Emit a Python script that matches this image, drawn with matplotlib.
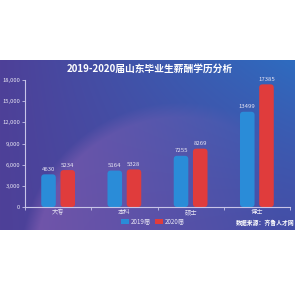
import numpy as np
import matplotlib
matplotlib.use('Agg')
import matplotlib.pyplot as plt
from matplotlib.patches import FancyBboxPatch, Rectangle

plt.rcParams['font.family'] = ['Noto Sans CJK SC', 'DejaVu Sans']

# 数据
categories = ['大专', '本科', '硕士', '博士']
salary_2019 = [4630, 5164, 7255, 13499]
salary_2020 = [5234, 5328, 8269, 17385]
series_names = ['2019届', '2020届']
yticks = [0, 3000, 6000, 9000, 12000, 15000, 18000]

blue = '#2a8cd8'
red = '#e03c3c'
txt = '#e8e6f4'

W = H = 295
fig = plt.figure(figsize=(2.95, 2.95), dpi=100)
fig.patch.set_facecolor('white')

# фон-градиент
top, bottom = 60, 230
bg = fig.add_axes([0, 1 - bottom / H, 1, (bottom - top) / H])
yy, xx = np.mgrid[top:bottom, 0:W].astype(float)
tx = xx / W
ty = (yy - top) / (bottom - top)
c_left = np.array([0x4e, 0x40, 0x98]) / 255
c_right = np.array([0x2e, 0x6c, 0xc0]) / 255
c_br = np.array([0x48, 0x4c, 0xa6]) / 255
wr = (tx * (1 - 0.6 * ty))[..., None]
img = c_left * (1 - wr) + c_right * wr
img = img * (1 - (tx * ty)[..., None] * 0.5) + c_br * (tx * ty)[..., None] * 0.5
d = np.sqrt((xx - 180) ** 2 + (yy - 262) ** 2)
blob = np.clip((160 - d) / 15, 0, 1) * np.clip(1.15 - tx * 1.2, 0, 1) * 0.5
blob_c = np.array([0x94, 0x66, 0xb8]) / 255
img = img * (1 - blob[..., None]) + blob_c * blob[..., None]
bg.imshow(img, aspect='auto', extent=[0, W, bottom, top])
bg.set_xlim(0, W)
bg.set_ylim(bottom, top)
bg.axis('off')

ax = fig.add_axes([25 / W, 1 - 207 / H, 265 / W, 127 / H])
ax.patch.set_alpha(0)
x = np.arange(len(categories))
w = 0.22
off = 0.145
b1 = ax.bar(x - off, salary_2019, w, color=blue)
b2 = ax.bar(x + off, salary_2020, w, color=red)

ax.set_xlim(-0.5, 3.5)
ax.set_ylim(0, 18000)

# скругление углов
asp = (18000 / 127) / (4 / 265)
for bars in (b1, b2):
    for p in bars:
        p.set_visible(False)
        fb = FancyBboxPatch((p.get_x(), 0), p.get_width(), p.get_height(),
                            boxstyle='round,pad=0,rounding_size=0.05',
                            mutation_aspect=asp, fc=p.get_facecolor(), ec='none')
        ax.add_patch(fb)

for bars, vals in ((b1, salary_2019), (b2, salary_2020)):
    for p, v in zip(bars, vals):
        ax.text(p.get_x() + p.get_width() / 2, v + 350, str(v),
                ha='center', va='bottom', fontsize=4.3, color=txt)

ax.set_yticks(yticks)
ax.set_yticklabels([f'{v:,}' for v in yticks], fontsize=4.2, color=txt)
ax.set_xticks(x)
ax.set_xticklabels(categories, fontsize=4.5, color=txt)
ax.set_xticks(np.arange(-0.5, 4, 1), minor=True)
ax.tick_params(axis='x', which='major', length=0, pad=1)
ax.tick_params(axis='x', which='minor', length=2, color='#c8c4e8', width=0.6)
ax.tick_params(axis='y', length=2, color='#c8c4e8', width=0.6, pad=1.5)
for s in ('top', 'right'):
    ax.spines[s].set_visible(False)
for s in ('left', 'bottom'):
    ax.spines[s].set_color('#c8c4e8')
    ax.spines[s].set_linewidth(0.8)

fig.text(150 / W, 1 - 69 / H, '2019-2020届山东毕业生薪酬学历分析',
         ha='center', va='center', fontsize=7, fontweight='bold', color='white')

# легенда
ly = 1 - 221 / H
fig.patches.append(Rectangle((121 / W, ly - 2.5 / H), 8 / W, 5 / H, fc=blue,
                             transform=fig.transFigure, figure=fig))
fig.text(131 / W, ly, series_names[0], fontsize=4.5, color=txt, va='center')
fig.patches.append(Rectangle((155 / W, ly - 2.5 / H), 8 / W, 5 / H, fc=red,
                             transform=fig.transFigure, figure=fig))
fig.text(165 / W, ly, series_names[1], fontsize=4.5, color=txt, va='center')

fig.text(265 / W, 1 - 222.5 / H, '数据来源：齐鲁人才网', ha='center', va='center',
         fontsize=4.2, fontweight='bold', color='white')

fig.savefig('out.png', dpi=100, facecolor='white')
